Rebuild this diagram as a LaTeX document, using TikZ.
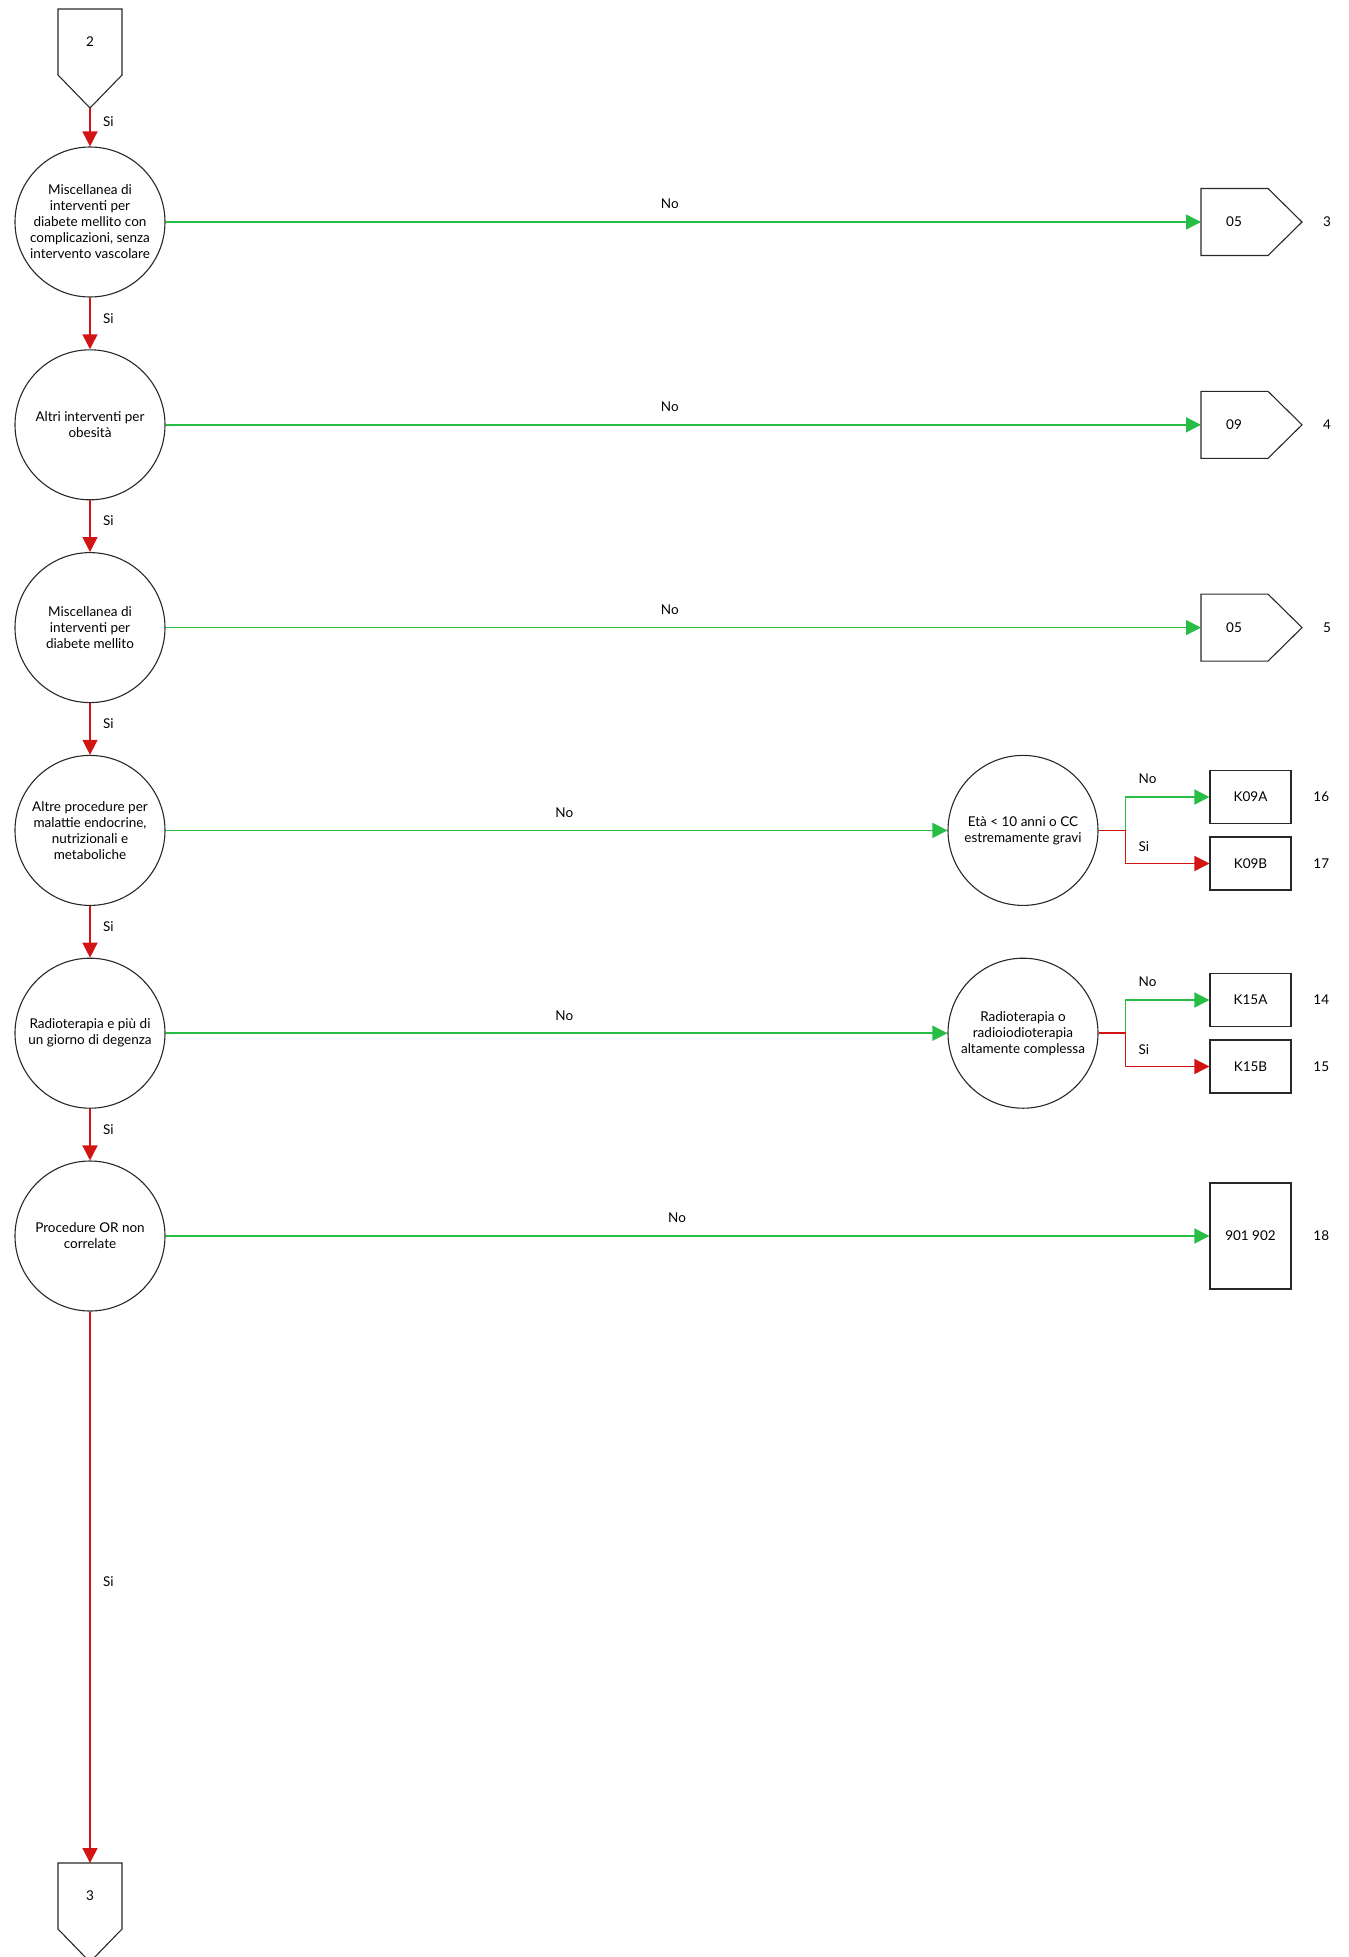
\documentclass[tikz,border=0pt]{standalone}
\usepackage{fontspec}
\setmainfont{Lato}
\usetikzlibrary{arrows.meta,positioning}

\definecolor{yesred}{RGB}{210,20,20}
\definecolor{nogreen}{RGB}{40,190,70}
\definecolor{edge}{RGB}{40,40,40}

\begin{document}
\begin{tikzpicture}[x=1pt, y=-1pt, line width=1.1pt,
	every node/.style={font=\fontsize{13.5}{16}\selectfont},
	question/.style={draw=edge, circle, minimum size=150pt, inner sep=0pt, align=center},
	leaf/.style={draw=edge, minimum width=81pt, minimum height=53pt, inner sep=0pt},
	yesarrow/.style={draw=yesred, line width=1.5pt, -{Triangle[length=15pt, width=15pt]}},
	noarrow/.style={draw=nogreen, line width=1.5pt, -{Triangle[length=15pt, width=15pt]}},
	lbl/.style={text=black}
]
	\useasboundingbox (0, 0) rectangle (1349, 1957);

	% \drawin#name#ytop#label
	\def\drawin#1#2#3{
		\draw[edge] (58, #2) -- (122, #2) -- (122, #2 + 66) -- (90, #2 + 99) -- (58, #2 + 66) -- cycle;
		\node (#1) at (90, #2 + 33) {#3};
		\coordinate (#1-top) at (90, #2);
		\coordinate (#1-tip) at (90, #2 + 99);
	}

	% \drawout#name#y#label#number
	\def\drawout#1#2#3#4{
		\draw[edge] (1201, #2 - 33.5) -- (1268, #2 - 33.5) -- (1302, #2) -- (1268, #2 + 33.5) -- (1201, #2 + 33.5) -- cycle;
		\node (#1) at (1234, #2) {#3};
		\coordinate (#1-in) at (1201, #2);
		\node (#1-n) at (1327, #2) {#4};
	}

	% connectors
	\drawin{c2}{9}{2}
	\drawin{c3}{1863}{3}

	% questions
	\node[question] (q1) at (90, 222) {Miscellanea di\\interventi per\\diabete mellito con\\complicazioni, senza\\intervento vascolare};
	\node[question] (q2) at (90, 424.8) {Altri interventi per\\obesità};
	\node[question] (q3) at (90, 627.6) {Miscellanea di\\interventi per\\diabete mellito};
	\node[question] (q4) at (90, 830.4) {Altre procedure per\\malattie endocrine,\\nutrizionali e\\metaboliche};
	\node[question] (q5) at (90, 1033.2) {Radioterapia e più di\\un giorno di degenza};
	\node[question] (q6) at (90, 1236) {Procedure OR non\\correlate};

	% yes path
	\draw[yesarrow] (c2-tip) -- node[lbl, right=9pt, pos=.36] {Si} (q1);
	\foreach \i/\j in {1/2, 2/3, 3/4, 4/5, 5/6}
		\draw[yesarrow] (q\i) -- node[lbl, right=9pt, pos=.4] {Si} (q\j);
	\draw[yesarrow] (q6) -- node[lbl, right=9pt, pos=.49] {Si} (c3-top);

	% outlets
	\drawout{o1}{222}{05}{3}
	\drawout{o2}{424.8}{09}{4}
	\drawout{o3}{627.6}{05}{5}
	\foreach \i in {1, 2, 3}
		\draw[noarrow] (q\i) -- node[lbl, above=9pt, pos=.487] {No} (o\i-in);

	% row 4
	\node[question] (d4) at (1023, 830.4) {Età < 10 anni o CC\\estremamente gravi};
	\coordinate[right=27pt of d4.east] (b4);
	\node[leaf] (k09a) at (1250.5, 797) {K09A};
	\node[leaf] (k09b) at (1250.5, 863.5) {K09B};
	\node[right=18pt of k09a] (n16) {16};
	\node[right=18pt of k09b] (n17) {17};
	\draw[noarrow] (q4) -- node[lbl, above=9pt, pos=.51] {No} (d4);
	\draw[noarrow] (b4) |- node[lbl, pos=.5, above right=9pt and 9pt] {No} (k09a);
	\draw[yesarrow] (d4) -- (b4) |- node[lbl, pos=.25, right=9pt] {Si} (k09b);

	% row 5
	\node[question] (d5) at (1023, 1033.2) {Radioterapia o\\radioiodioterapia\\altamente complessa};
	\coordinate[right=27pt of d5.east] (b5);
	\node[leaf] (k15a) at (1250.5, 1000) {K15A};
	\node[leaf] (k15b) at (1250.5, 1066.5) {K15B};
	\node[right=18pt of k15a] (n14) {14};
	\node[right=18pt of k15b] (n15) {15};
	\draw[noarrow] (q5) -- node[lbl, above=9pt, pos=.51] {No} (d5);
	\draw[noarrow] (b5) |- node[lbl, pos=.5, above right=9pt and 9pt] {No} (k15a);
	\draw[yesarrow] (d5) -- (b5) |- node[lbl, pos=.25, right=9pt] {Si} (k15b);

	% row 6
	\node[leaf, minimum height=106pt] (x18) at (1250.5, 1236) {901 902};
	\node[right=18pt of x18] (n18) {18};
	\draw[noarrow] (q6) -- node[lbl, above=9pt, pos=.49] {No} (x18);
\end{tikzpicture}
\end{document}
